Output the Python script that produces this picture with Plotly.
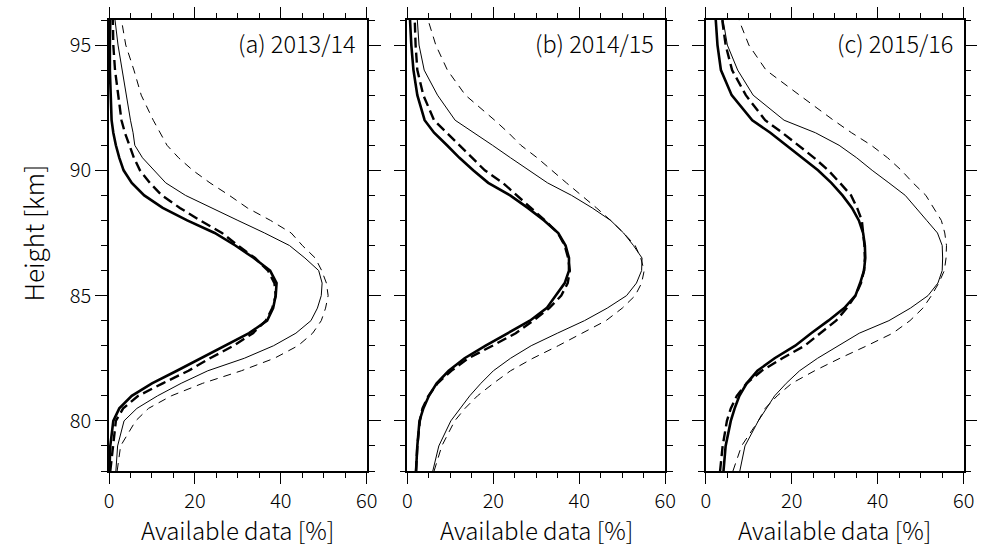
import plotly.graph_objects as go

# Heights (km), bottom to top
heights = [78, 79, 80, 80.5, 81, 81.5, 82, 82.5, 83, 83.5, 84, 84.5, 85, 85.5, 86,
           86.5, 87, 87.5, 88, 88.5, 89, 89.5, 90, 90.5, 91, 91.5, 92, 93, 94, 95, 96]

# Panel (a) 2013/14
a_thick_solid = [0.1, 0.3, 1.0, 2.4, 5.3, 10.0, 15.8, 21.4, 27.0, 32.6, 36.8, 38.2, 38.8, 39.0, 37.5,
                 33.7, 29.4, 24.6, 18.2, 12.5, 8.2, 5.3, 3.4, 2.4, 1.6, 1.0, 0.6, 0.4, 0.2, 0.2, 0.3]
a_thick_dash = [0.3, 0.9, 1.6, 3.3, 6.8, 12.5, 18.5, 23.5, 29.0, 33.5, 36.5, 38.0, 38.8, 38.5, 37.0,
                34.0, 30.0, 26.3, 21.2, 16.5, 12.3, 9.5, 7.2, 5.8, 4.7, 3.7, 2.9, 2.1, 1.4, 1.0, 0.9]
a_thin_solid = [1.6, 2.0, 3.5, 6.5, 11.3, 16.8, 23.0, 31.5, 38.3, 43.5, 47.0, 48.5, 49.4, 49.6, 48.8,
                45.6, 42.0, 36.2, 30.0, 23.8, 17.8, 13.2, 10.5, 7.8, 6.0, 5.6, 5.0, 4.0, 3.1, 2.1, 1.4]
a_thin_dash = [1.9, 2.7, 6.2, 9.2, 14.5, 21.8, 30.8, 38.5, 44.0, 47.4, 49.4, 50.4, 51.0, 50.6, 49.5,
               48.0, 45.0, 42.4, 37.6, 32.2, 28.0, 23.5, 19.5, 16.2, 13.5, 11.8, 10.3, 7.5, 5.8, 3.9, 2.9]

# Panel (b) 2014/15
b_thick_solid = [2.0, 2.3, 2.8, 3.7, 5.0, 6.8, 9.6, 13.3, 18.2, 23.3, 28.5, 32.4, 34.6, 36.6, 37.6,
                 37.6, 36.8, 35.1, 31.8, 28.0, 23.9, 18.8, 15.3, 12.1, 9.2, 6.2, 4.0, 2.3, 1.4, 0.9, 0.6]
b_thick_dash = [2.0, 2.3, 2.9, 3.5, 4.9, 7.0, 10.2, 14.2, 19.8, 25.2, 29.3, 33.0, 35.8, 37.3, 37.8,
                37.4, 36.6, 35.0, 32.0, 28.8, 25.5, 22.2, 18.0, 15.0, 12.2, 9.0, 6.2, 3.7, 2.3, 1.9, 1.7]
b_thin_solid = [5.9, 7.3, 10.1, 12.3, 14.5, 17.1, 20.0, 24.0, 28.8, 34.9, 41.2, 46.5, 51.0, 53.3, 54.5,
                54.6, 52.6, 50.3, 47.3, 43.0, 38.2, 32.6, 28.2, 24.0, 19.8, 15.3, 11.1, 7.0, 3.9, 2.7, 2.3]
b_thin_dash = [6.2, 8.0, 11.0, 13.4, 16.3, 20.0, 24.0, 29.2, 35.1, 40.5, 46.2, 50.0, 53.0, 54.5, 55.1,
               54.3, 53.0, 50.3, 47.3, 44.0, 40.4, 37.0, 33.6, 30.2, 26.4, 23.5, 20.3, 13.5, 9.3, 6.6, 4.8]

# Panel (c) 2015/16
c_thick_solid = [4.1, 4.6, 5.8, 6.7, 7.8, 9.5, 12.0, 16.0, 20.8, 24.5, 28.5, 32.2, 34.8, 35.9, 36.8,
                 37.1, 37.0, 36.6, 35.6, 34.0, 31.8, 29.2, 26.1, 22.5, 18.7, 15.0, 10.8, 6.0, 3.5, 2.7, 2.3]
c_thick_dash = [3.3, 3.9, 4.9, 5.8, 7.2, 9.5, 13.0, 17.8, 23.0, 26.7, 30.3, 32.8, 34.8, 36.1, 36.8,
                37.0, 36.9, 36.6, 36.3, 35.2, 33.8, 31.2, 28.5, 25.2, 21.5, 17.8, 13.8, 9.3, 6.1, 4.6, 3.8]
c_thin_solid = [7.9, 9.1, 12.2, 14.1, 16.0, 18.7, 21.8, 26.0, 30.8, 35.7, 42.6, 47.6, 51.7, 54.0, 55.0,
                55.1, 55.0, 53.9, 51.4, 48.9, 46.4, 42.6, 38.7, 35.1, 31.0, 25.5, 18.2, 11.0, 7.4, 5.0, 4.0]
c_thin_dash = [6.3, 8.3, 12.2, 13.8, 16.6, 20.0, 25.3, 31.2, 37.5, 43.5, 47.5, 50.5, 52.5, 54.2, 55.5,
               55.9, 56.0, 55.6, 54.8, 53.0, 51.2, 48.2, 45.5, 42.3, 38.5, 33.9, 29.7, 21.8, 14.0, 10.0, 7.7]

panel_labels = ["(a) 2013/14", "(b) 2014/15", "(c) 2015/16"]
x_title = "Available data [%]"
y_title = "Height [km]"
x_ticks = [0, 20, 40, 60]
y_ticks = [80, 85, 90, 95]

panels = [
    (a_thick_solid, a_thick_dash, a_thin_solid, a_thin_dash),
    (b_thick_solid, b_thick_dash, b_thin_solid, b_thin_dash),
    (c_thick_solid, c_thick_dash, c_thin_solid, c_thin_dash),
]

W, H = 998, 548
FONT = "Noto Sans CJK JP, Noto Sans, sans-serif"
x_doms_px = [(105.7, 367.7), (409.0, 671.0), (712.3, 974.3)]
y_dom = [1 - 471 / H, 1 - 20 / H]

styles = [
    dict(width=2.6, dash="solid"),
    dict(width=2.4, dash="10px,5px"),
    dict(width=1.0, dash="solid"),
    dict(width=1.0, dash="8px,6px"),
]

fig = go.Figure()
for i, series in enumerate(panels):
    xa = "x" if i == 0 else f"x{i+1}"
    ya = "y" if i == 0 else f"y{i+1}"
    for vals, st in zip(series[::-1], styles[::-1]):
        fig.add_trace(go.Scatter(
            x=vals, y=heights, mode="lines",
            line=dict(color="black", width=st["width"], dash=st["dash"]),
            xaxis=xa, yaxis=ya, showlegend=False, hoverinfo="skip"))

layout = dict(
    width=W, height=H, margin=dict(l=0, r=0, t=0, b=0),
    paper_bgcolor="white", plot_bgcolor="white",
    font=dict(family=FONT, color="black", size=20, weight=300),
    showlegend=False,
)

tick_font = dict(size=20, family=FONT, weight=300)
annotations = []
for i, (x0, x1) in enumerate(x_doms_px):
    xk = "xaxis" if i == 0 else f"xaxis{i+1}"
    yk = "yaxis" if i == 0 else f"yaxis{i+1}"
    ya = "y" if i == 0 else f"y{i+1}"
    xa = "x" if i == 0 else f"x{i+1}"
    layout[xk] = dict(
        domain=[x0 / W, x1 / W], range=[0, 60], anchor=ya,
        tickvals=x_ticks, ticktext=[str(v) for v in x_ticks],
        ticks="outside", ticklen=11, tickwidth=1.4, tickcolor="black",
        minor=dict(dtick=5, tick0=0, ticks="outside", ticklen=5, tickwidth=1.2, tickcolor="black"),
        showline=True, linecolor="black", linewidth=1.5, mirror="allticks",
        showgrid=False, zeroline=False, tickfont=tick_font,
        fixedrange=True,
    )
    layout[yk] = dict(
        domain=y_dom, range=[78, 96], anchor=xa,
        tickvals=y_ticks, ticktext=[str(v) for v in y_ticks],
        ticks="outside", ticklen=12, tickwidth=1.4, tickcolor="black",
        minor=dict(dtick=1, tick0=78, ticks="outside", ticklen=6, tickwidth=1.2, tickcolor="black"),
        showline=True, linecolor="black", linewidth=1.5, mirror="allticks",
        showgrid=False, zeroline=False, showticklabels=(i == 0),
        tickfont=tick_font, fixedrange=True,
    )
    annotations.append(dict(
        text=x_title, xref="paper", yref="paper",
        x=(x0 + x1) / 2 / W, y=1 - 529 / H, xanchor="center", yanchor="middle",
        showarrow=False, font=dict(size=24, family=FONT, weight=300)))
    annotations.append(dict(
        text=panel_labels[i], xref="paper", yref="paper",
        x=(x1 - 9) / W, y=1 - 43 / H, xanchor="right", yanchor="middle",
        showarrow=False, font=dict(size=23.5, family=FONT, weight=300)))

annotations.append(dict(
    text=y_title, xref="paper", yref="paper",
    x=27 / W, y=1 - 233 / H, xanchor="center", yanchor="middle", textangle=-90,
    showarrow=False, font=dict(size=26, family=FONT, weight=300)))
layout["annotations"] = annotations

fig.update_layout(**layout)
fig.write_html("out.html")
